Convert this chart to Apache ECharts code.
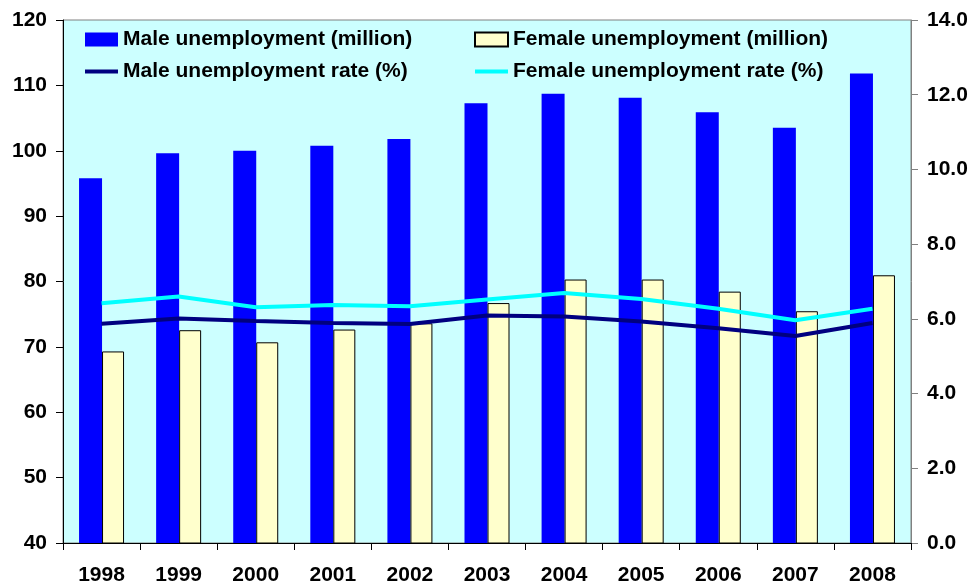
<!DOCTYPE html>
<html>
<head>
<meta charset="utf-8">
<script src="https://cdn.jsdelivr.net/npm/echarts@6/dist/echarts.min.js"></script>
<style>html,body{margin:0;padding:0;background:#fff}#c{width:971px;height:586px}</style>
</head>
<body>
<div id="c"></div>
<script>
var years = ['1998','1999','2000','2001','2002','2003','2004','2005','2006','2007','2008'];
var maleUnemp = [95.8, 99.6, 100.0, 100.75, 101.8, 107.25, 108.7, 108.1, 105.9, 103.5, 111.8];
var femaleUnemp = [69.3, 72.55, 70.7, 72.65, 73.6, 76.7, 80.3, 80.3, 78.45, 75.45, 80.95];
var maleRate = [5.87, 6.01, 5.94, 5.89, 5.86, 6.09, 6.06, 5.93, 5.75, 5.54, 5.89];
var femaleRate = [6.42, 6.60, 6.31, 6.37, 6.34, 6.52, 6.69, 6.53, 6.27, 5.96, 6.27];

var font = {fontFamily: 'Liberation Sans, Arial, sans-serif', fontWeight: 'bold', fontSize: 21, color: '#000'};
var hideSym = {color: 'transparent', borderWidth: 0, opacity: 0};
var chart = echarts.init(document.getElementById('c'));
chart.setOption({
  animation: false,
  grid: {left: 63, right: 60, top: 20, bottom: 41, show: true, backgroundColor: '#CCFFFF', borderColor: '#808080', borderWidth: 1},
  legend: [
    {left: 78, top: 24, orient: 'vertical', itemGap: 11, itemWidth: 33, itemHeight: 14,
     data: [{name: 'Male unemployment (million)', icon: 'rect'},
            {name: 'Male unemployment rate (%)', itemStyle: hideSym, lineStyle: {width: 4}}], textStyle: font},
    {left: 468, top: 24, orient: 'vertical', itemGap: 11, itemWidth: 33, itemHeight: 14,
     data: [{name: 'Female unemployment (million)', icon: 'rect'},
            {name: 'Female unemployment rate (%)', itemStyle: hideSym, lineStyle: {width: 4}}], textStyle: font}
  ],
  xAxis: {
    type: 'category', data: years,
    axisLine: {lineStyle: {color: '#000', width: 1}},
    axisTick: {show: true, length: 7, lineStyle: {color: '#000'}},
    axisLabel: Object.assign({margin: 22}, font),
    splitLine: {show: false}
  },
  yAxis: [
    {type: 'value', min: 40, max: 120, interval: 10, position: 'left',
     axisLine: {show: true, lineStyle: {color: '#000'}},
     axisTick: {show: true, length: 7, lineStyle: {color: '#000'}},
     axisLabel: Object.assign({margin: 16}, font),
     splitLine: {show: false}},
    {type: 'value', min: 0, max: 14, interval: 2, position: 'right',
     axisLine: {show: true, lineStyle: {color: '#808080'}},
     axisTick: {show: true, length: 7, lineStyle: {color: '#808080'}},
     axisLabel: Object.assign({margin: 16, formatter: function(v){return v.toFixed(1);}}, font),
     splitLine: {show: false}}
  ],
  series: [
    {name: 'Male unemployment (million)', type: 'bar', data: maleUnemp, barWidth: 23, barGap: '0%',
     itemStyle: {color: '#0000FF'}},
    {name: 'Female unemployment (million)', type: 'bar', data: femaleUnemp, barWidth: 22, barGap: '0%',
     itemStyle: {color: '#FFFFCC', borderColor: '#000', borderWidth: 1}},
    {name: 'Male unemployment rate (%)', type: 'line', yAxisIndex: 1, data: maleRate, symbol: 'none',
     lineStyle: {color: '#000080', width: 4}, itemStyle: {color: '#000080'}, z: 5},
    {name: 'Female unemployment rate (%)', type: 'line', yAxisIndex: 1, data: femaleRate, symbol: 'none',
     lineStyle: {color: '#00FFFF', width: 4}, itemStyle: {color: '#00FFFF'}, z: 4}
  ]
});
</script>
</body>
</html>
